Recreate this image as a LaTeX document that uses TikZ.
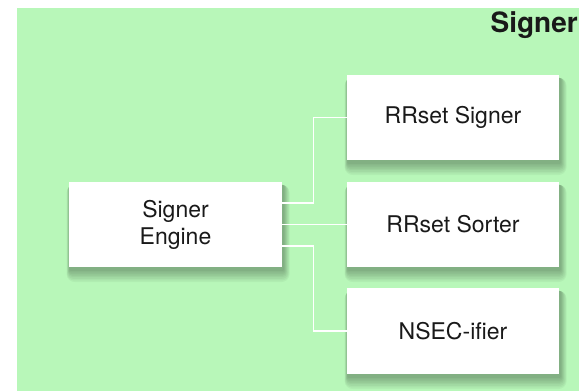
\documentclass[tikz,border=0pt]{standalone}
\usepackage{fontspec}
\setmainfont{TeX Gyre Heros}
\usepackage{tikz}
\usetikzlibrary{positioning,calc}
\usepackage{xcolor}
\definecolor{panelgreen}{RGB}{184,247,185}

\pgfdeclarelayer{panel}
\pgfdeclarelayer{shade}
\pgfsetlayers{panel,shade,main}

% soft shadow under a box
\newcommand{\dropshade}[1]{%
  \begin{pgfonlayer}{shade}
    \foreach \r in {1,...,8}{
      \fill[black, opacity=0.04, rounded corners=\r pt]
        ($(#1.north west)+(1-0.4*\r,3)$) rectangle ($(#1.south east)+(1+0.8*\r,2+1.6*\r)$);
    }
  \end{pgfonlayer}}

\begin{document}
\begin{tikzpicture}[
    x=1pt, y=-1pt,
    block/.style={rectangle, fill=white, minimum width=212pt, minimum height=85pt, align=center,
                  inner sep=0pt, font=\fontsize{23}{27}\selectfont},
    wire/.style={draw=white, line width=1.4pt},
    every node/.style={text=black!90}
]
    \useasboundingbox (0,0) rectangle (579,391);
    \clip (0,0) rectangle (579,391);

    % Panel
    \begin{pgfonlayer}{panel}
      \fill[panelgreen] (17,8) rectangle (579,391);
    \end{pgfonlayer}
    \node[anchor=base east, inner sep=0pt, font=\fontsize{28}{32}\selectfont\bfseries] (title) at (578,32) {Signer};

    % Engine
    \node[block, minimum width=213pt] (engine) at (175.5,224.5) {Signer\\Engine};

    % Parts
    \node[block] (signer) at (453,117.5) {RRset Signer};
    \node[block] (sorter) at (453,224.5) {RRset Sorter};
    \node[block, minimum height=86pt] (nsec) at (453,331) {NSEC-ifier};

    % Shadows
    \dropshade{engine}
    \dropshade{signer}
    \dropshade{sorter}
    \dropshade{nsec}

    % Wires
    \draw[wire] ([yshift=21.5pt]engine.east) -- ++(31,0) |- (signer.west);
    \draw[wire] (engine.east) -- (sorter.west);
    \draw[wire] ([yshift=-21.5pt]engine.east) -- ++(31,0) |- (nsec.west);
\end{tikzpicture}
\end{document}
